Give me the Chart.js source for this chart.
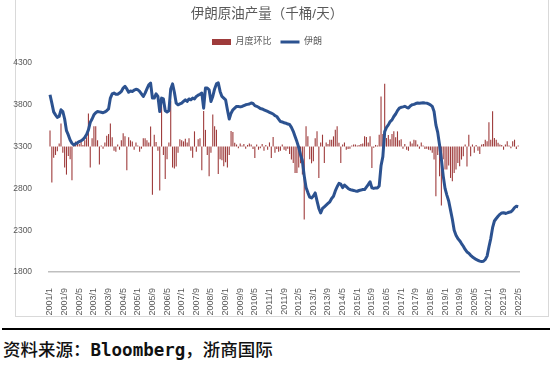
<!DOCTYPE html>
<html lang="zh">
<head>
<meta charset="UTF-8">
<title>伊朗原油产量</title>
<script src="https://cdn.jsdelivr.net/npm/chart.js"></script>
<style>
  body { margin: 0; width: 550px; height: 368px; background: #fff; position: relative; overflow: hidden; }
  #frame { position: absolute; left: 15px; top: -1px; width: 534px; height: 318px; border: 1px solid #d9d9d9; box-sizing: border-box; }
  #chart { position: absolute; left: 0; top: 0; }
  #rule { position: absolute; left: 2px; top: 328px; width: 548px; height: 2px; background: #000; }
  #source { position: absolute; left: 3px; top: 339px; font: 500 17.5px "DejaVu Sans Mono", "Noto Sans CJK SC", monospace; line-height: 22px; color: #111; }
  #source b { font-weight: bold; }
</style>
</head>
<body>
<div id="frame"></div>
<canvas id="chart" width="550" height="316"></canvas>
<div id="rule"></div>
<div id="source">资料来源：<b>Bloomberg</b>，浙商国际</div>

<script>
// months 2001/1 .. 2022/5
const months = [];
for (let y = 2001; y <= 2022; y++) {
    for (let m = 1; m <= 12; m++) months.push(y + '/' + m);
}
months.length = 257;

// 伊朗原油产量, 千桶/天
const iranOutput = [
    3920, 3820, 3715, 3680, 3650, 3660, 3740, 3720, 3630, 3490,
    3440, 3380, 3340, 3320, 3335, 3345, 3360, 3370, 3385, 3410,
    3445, 3500, 3590, 3630, 3680, 3705, 3720, 3715, 3710, 3705,
    3715, 3730, 3750, 3880, 3930, 3940, 3925, 3925, 3940, 3960,
    4000, 4021, 3990, 3950, 3965, 3960, 3975, 3985, 3980, 3960,
    3930, 3900, 3940, 3990, 4040, 4060, 3880, 3880, 3930, 3900,
    3720, 3880, 3870, 3730, 3715, 3730, 3990, 4050, 3950, 3820,
    3800, 3810, 3820, 3840, 3860, 3840, 3870, 3860, 3880, 3870,
    3900, 3915, 3925, 3940, 3760, 4000, 4000, 3980, 3840, 3900,
    3990, 4050, 4062, 3960, 3900, 3880, 3860, 3740, 3630, 3700,
    3740, 3760, 3780, 3780, 3775, 3780, 3790, 3800, 3805, 3810,
    3822, 3815, 3790, 3782, 3770, 3755, 3750, 3740, 3730, 3720,
    3710, 3700, 3690, 3670, 3660, 3630, 3600, 3595, 3585, 3580,
    3570, 3565, 3530, 3483, 3420, 3360, 3290, 3200, 3130, 2950,
    2810, 2750, 2695, 2686, 2710, 2746, 2650, 2560, 2507, 2560,
    2580, 2600, 2620, 2640, 2680, 2706, 2770, 2820, 2860, 2850,
    2810, 2840, 2820, 2800, 2786, 2780, 2775, 2770, 2766, 2775,
    2780, 2786, 2786, 2815, 2845, 2880, 2806, 2800, 2806, 2806,
    2830, 3070, 3180, 3480, 3530, 3560, 3600, 3620, 3660, 3690,
    3730, 3760, 3770, 3775, 3782, 3770, 3762, 3785, 3800, 3805,
    3815, 3822, 3818, 3822, 3825, 3822, 3820, 3810, 3800, 3782,
    3720, 3560, 3470, 3320, 3150, 2950, 2800, 2720, 2650, 2540,
    2430, 2300, 2240, 2200, 2175, 2140, 2108, 2070, 2040, 2025,
    2000, 1980, 1965, 1950, 1940, 1930, 1925, 1929, 1950, 1990,
    2100, 2200, 2330, 2410, 2440, 2467, 2490, 2507, 2510, 2500,
    2507, 2515, 2520, 2540, 2570, 2586, 2580
];

// 月度环比, 千桶/天
const momChange = [
    77, -172, -53, -40, -22, 15, 110, -30, -100, -134,
    -45, -60, -161, 10, 25, 18, 12, 22, 8, 30,
    45, 158, -100, 40, 97, 97, 30, -86, 5, -10,
    20, 52, 60, 110, 45, -20, -25, 10, -15, 30,
    64, 50, -113, 45, 30, 25, -15, 20, 5, -25,
    -10, 40, 40, 30, 20, 96, -230, 57, 22, -20,
    -210, 195, -40, -155, -60, 20, 217, -100, -105, -95,
    -30, 35, 30, 25, 38, 20, 40, -20, -53, 73,
    -25, 35, 40, -113, 170, 80, -40, -142, -30, 153,
    97, 81, -131, -60, -65, -94, -75, -100, -40, 75,
    70, 18, 10, -8, 15, 5, 12, -10, 8, 15,
    10, -12, -54, 10, -15, -8, 12, -20, 8, -15,
    20, -55, 46, -30, -12, -25, -20, 10, -15, -20,
    -10, -35, -62, -78, -126, -126, -100, -80, -134, -349,
    97, 49, -60, -80, -70, 40, 73, -150, 20, 57,
    -78, 20, 12, 33, 33, 49, 81, 97, 18, -78,
    10, 20, -15, -12, -10, 5, 10, 10, 5, 8,
    12, 15, 49, 46, 20, 50, -102, -5, 8, 5,
    57, 240, 60, 301, 41, 55, 35, 60, 73, 45,
    73, 30, 35, -10, 12, -15, -20, 25, 15, 33,
    30, 10, -10, 20, 5, -12, -10, -15, -18, -30,
    -62, -238, -40, -142, -282, -60, -110, -110, -90, -150,
    -166, -126, -110, -78, -94, -62, -46, 10, -95, 57,
    -46, 10, -30, 8, -20, -35, 10, 12, 33, 26,
    117, 33, 169, 41, 33, 18, 10, 8, -15, 10,
    26, 5, -8, 26, 33, -12, 5
];

const textGray = '#595959';
Chart.defaults.font.family = "'Liberation Sans', 'Noto Sans CJK SC', sans-serif";
Chart.defaults.color = textGray;

new Chart(document.getElementById('chart'), {
    type: 'bar',
    data: {
        labels: months,
        datasets: [{
            type: 'bar',
            label: '月度环比',
            data: momChange,
            yAxisID: 'y1',
            backgroundColor: '#9E3B3B',
            borderWidth: 0,
            barPercentage: 0.6,
            categoryPercentage: 1,
            pointStyle: 'rect',
            order: 1
        }, {
            type: 'line',
            label: '伊朗',
            data: iranOutput,
            yAxisID: 'y',
            borderColor: '#2C5290',
            backgroundColor: '#2C5290',
            borderWidth: 3,
            pointRadius: 0,
            pointStyle: 'line',
            tension: 0,
            borderJoinStyle: 'round',
            order: 0
        }]
    },
    options: {
        responsive: false,
        animation: false,
        devicePixelRatio: 1,
        layout: { padding: { left: 0, right: 16, top: 0, bottom: 0 } },
        plugins: {
            title: {
                display: true,
                text: '伊朗原油产量（千桶/天）',
                color: textGray,
                font: { size: 13.5, weight: 'normal' },
                padding: { top: 5.9, bottom: 6.4 }
            },
            subtitle: {
                // spacer between legend and plot
                display: true,
                text: '',
                weight: 900,
                padding: 0,
                font: { size: 6.5, lineHeight: 1 }
            },
            legend: {
                display: true,
                position: 'top',
                labels: {
                    usePointStyle: true,
                    pointStyleWidth: 19,
                    boxHeight: 6,
                    padding: 9,
                    color: textGray,
                    font: { size: 9 },
                    sort: (a, b) => a.datasetIndex - b.datasetIndex
                }
            },
            tooltip: { enabled: false }
        },
        scales: {
            x: {
                grid: { display: false },
                border: { display: true, color: '#bfbfbf', width: 1.5 },
                ticks: {
                    autoSkip: false,
                    minRotation: 90,
                    maxRotation: 90,
                    padding: 8,
                    font: { size: 9 },
                    callback: (v, i) => (i % 8 === 0 ? months[i] : '')
                },
                afterFit: s => { s.height = 44; }
            },
            y: {
                position: 'left',
                min: 1800,
                max: 4300,
                grid: { display: false },
                border: { display: false },
                ticks: { stepSize: 500, padding: 9, font: { size: 8.5 }, callback: v => String(v) },
                afterFit: s => { s.width = 49.1; }
            },
            y1: {
                position: 'right',
                min: -600,
                max: 400,
                grid: { display: false },
                border: { display: false },
                ticks: { stepSize: 100, padding: 9, font: { size: 8.5 }, callback: v => String(v) },
                afterFit: s => { s.width = 14.9; }
            }
        }
    }
});
</script>
</body>
</html>
